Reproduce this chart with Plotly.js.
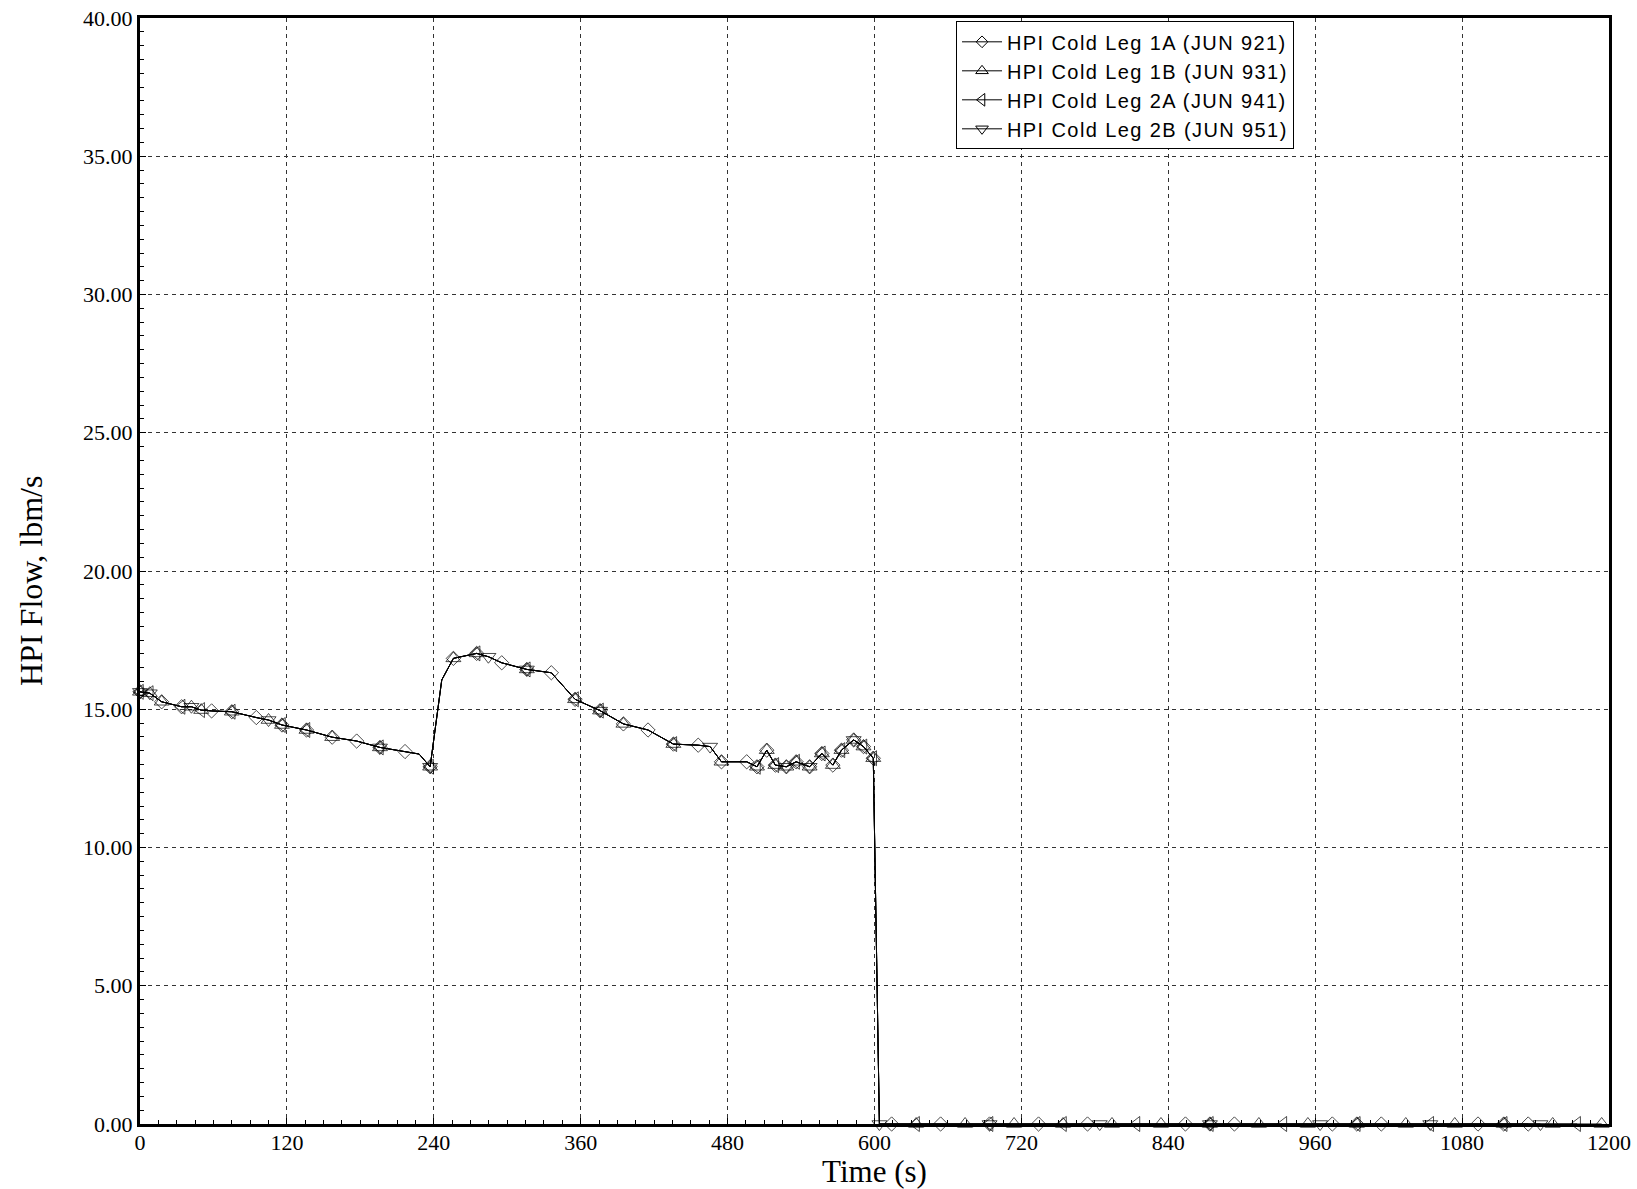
<!DOCTYPE html>
<html>
<head>
<meta charset="utf-8">
<script src="https://cdn.plot.ly/plotly-3.0.1.min.js"></script>
<style>
  html, body { margin: 0; padding: 0; background: #fff; }
  #chart { width: 1637px; height: 1189px; }
  .legendtext { letter-spacing: 1.4px; }
</style>
</head>
<body>
<div id="chart"></div>
<script>
// ---- data ----
const seriesNames = ["HPI Cold Leg 1A (JUN 921)", "HPI Cold Leg 1B (JUN 931)", "HPI Cold Leg 2A (JUN 941)", "HPI Cold Leg 2B (JUN 951)"];

// shared sampled curve before / at the pump trip (s, lbm/s)
const timePre = [0, 8, 17.7, 34, 42, 50, 58.5, 75, 95, 105, 116, 136, 157, 177, 196, 216.5, 228, 237, 246.5, 256, 275, 284.6, 295.5, 316, 336, 355.4, 375.8, 394.9, 415, 435.7, 456, 465.7, 475, 495.6, 504, 512, 519, 528, 536, 547, 557, 566, 573, 583, 591, 599, 604];
const flowPre = [15.63, 15.58, 15.27, 15.09, 15.09, 14.97, 14.94, 14.91, 14.70, 14.61, 14.43, 14.25, 13.99, 13.85, 13.62, 13.47, 13.38, 12.92, 16.06, 16.84, 17.02, 16.90, 16.68, 16.44, 16.32, 15.36, 14.95, 14.47, 14.25, 13.74, 13.70, 13.65, 13.10, 13.10, 12.92, 13.52, 12.98, 12.92, 13.10, 12.92, 13.40, 12.98, 13.52, 13.89, 13.65, 13.23, 0];

// marked samples of each series before the trip
const marks1A = [0, 17.7, 34, 58.5, 75, 95, 116, 136, 157, 177, 196, 216.5, 237, 256, 275, 295.5, 316, 336, 355.4, 375.8, 394.9, 415, 435.7, 456, 475, 495.6, 504, 512, 519, 528, 536, 547, 557, 566, 573, 583, 591, 599];
const marks1B = [0, 8, 17.7, 42, 50, 75, 105, 116, 136, 157, 196, 237, 256, 275, 316, 355.4, 375.8, 394.9, 435.7, 475, 504, 512, 519, 528, 536, 547, 557, 566, 573, 583, 591, 599];
const marks2A = [0, 8, 34, 50, 75, 116, 136, 196, 237, 275, 316, 355.4, 375.8, 435.7, 504, 519, 536, 557, 573, 591, 599];
const marks2B = [0, 8, 42, 105, 196, 237, 284.6, 316, 375.8, 465.7, 528, 547, 583, 604];

// samples after the trip (flow is zero)
const timeZero1A = [614, 654, 694, 734, 774, 854, 874, 894, 974, 994, 1014, 1093, 1114, 1134];
const flowZero1A = [0, 0, 0, 0, 0, 0, 0, 0, 0, 0, 0, 0, 0, 0];
const timeZero1B = [634, 674, 714, 754, 794, 834, 874, 914, 954, 994, 1034, 1074, 1114, 1154, 1194];
const flowZero1B = [0, 0, 0, 0, 0, 0, 0, 0, 0, 0, 0, 0, 0, 0, 0];
const timeZero2A = [634, 694, 754, 814, 874, 934, 994, 1054, 1114, 1174];
const flowZero2A = [0, 0, 0, 0, 0, 0, 0, 0, 0, 0];
const timeZero2B = [694, 784, 874, 964, 1054, 1144];
const flowZero2B = [0, 0, 0, 0, 0, 0];

const xTicks = [0, 120, 240, 360, 480, 600, 720, 840, 960, 1080, 1200];
const yTicks = [0, 5, 10, 15, 20, 25, 30, 35, 40];

// ---- drawing ----
const symbols = ["diamond-open", "triangle-up-open", "triangle-left-open", "triangle-down-open"];
const symSizes = [11, 13, 13, 13];
const groups = [
  [marks1A, timeZero1A, flowZero1A],
  [marks1B, timeZero1B, flowZero1B],
  [marks2A, timeZero2A, flowZero2A],
  [marks2B, timeZero2B, flowZero2B]
];
const traces = [];
groups.forEach((g, i) => {
  const x = timePre.concat(g[1]);
  const y = flowPre.concat(g[2]);
  const marked = g[0].concat(g[1]);
  const sizes = x.map(t => marked.includes(t) ? symSizes[i] : 0);
  traces.push({
    x: x, y: y, type: "scatter", mode: "lines+markers",
    name: seriesNames[i], legendgroup: "g" + i, showlegend: false,
    line: {color: "#000", width: 1},
    marker: {symbol: symbols[i], size: sizes, color: "#000", line: {width: 1, color: "#000"}},
    hoverinfo: "skip", cliponaxis: false
  });
});
// legend entries
groups.forEach((g, i) => {
  traces.push({
    x: [-500], y: [-500], type: "scatter", mode: "lines+markers",
    name: seriesNames[i], legendgroup: "g" + i, showlegend: true,
    line: {color: "#000", width: 1},
    marker: {symbol: symbols[i], size: symSizes[i] - 2, color: "#000", line: {width: 1, color: "#000"}},
    cliponaxis: true
  });
});

const serif = "Liberation Serif, Times New Roman, serif";
const layout = {
  width: 1637, height: 1189,
  margin: {l: 140, r: 28, t: 18, b: 65},
  paper_bgcolor: "#fff", plot_bgcolor: "#fff",
  showlegend: true,
  legend: {
    x: 0.5555, y: 0.997, xanchor: "left", yanchor: "top",
    bgcolor: "#fff", bordercolor: "#000", borderwidth: 1,
    font: {family: "Liberation Sans, Arial, sans-serif", size: 20, color: "#000"},
    tracegroupgap: 0, itemwidth: 40
  },
  xaxis: {
    range: [0, 1200], tickvals: xTicks, ticktext: xTicks.map(String),
    showline: true, linecolor: "#000", linewidth: 3, mirror: true, layer: "below traces",
    showgrid: true, gridcolor: "#333", gridwidth: 1, griddash: "4px,4px",
    zeroline: false, ticks: "inside", ticklen: 6, tickcolor: "#000",
    minor: {dtick: 15, ticks: "inside", ticklen: 4, tickcolor: "#000", showgrid: false},
    tickfont: {family: serif, size: 22, color: "#000"}, ticklabelstandoff: -3,
    title: {text: "Time (s)", font: {family: serif, size: 31, color: "#000"}, standoff: 7},
    automargin: false
  },
  yaxis: {
    range: [0, 40], tickvals: yTicks, ticktext: yTicks.map(v => v.toFixed(2)),
    showline: true, linecolor: "#000", linewidth: 3, mirror: true, layer: "below traces",
    showgrid: true, gridcolor: "#333", gridwidth: 1, griddash: "4px,4px",
    zeroline: false, ticks: "inside", ticklen: 6, tickcolor: "#000",
    minor: {dtick: 0.5, ticks: "inside", ticklen: 4, tickcolor: "#000", showgrid: false},
    tickfont: {family: serif, size: 22, color: "#000"},
    automargin: false
  },
  annotations: [{
    text: "HPI Flow, lbm/s", textangle: -90, showarrow: false,
    xref: "paper", yref: "paper", x: -0.0742, y: 0.491, xanchor: "center", yanchor: "middle",
    font: {family: serif, size: 32, color: "#000"}
  }]
};

Plotly.newPlot("chart", traces, layout, {displayModeBar: false, staticPlot: true});
</script>
</body>
</html>
